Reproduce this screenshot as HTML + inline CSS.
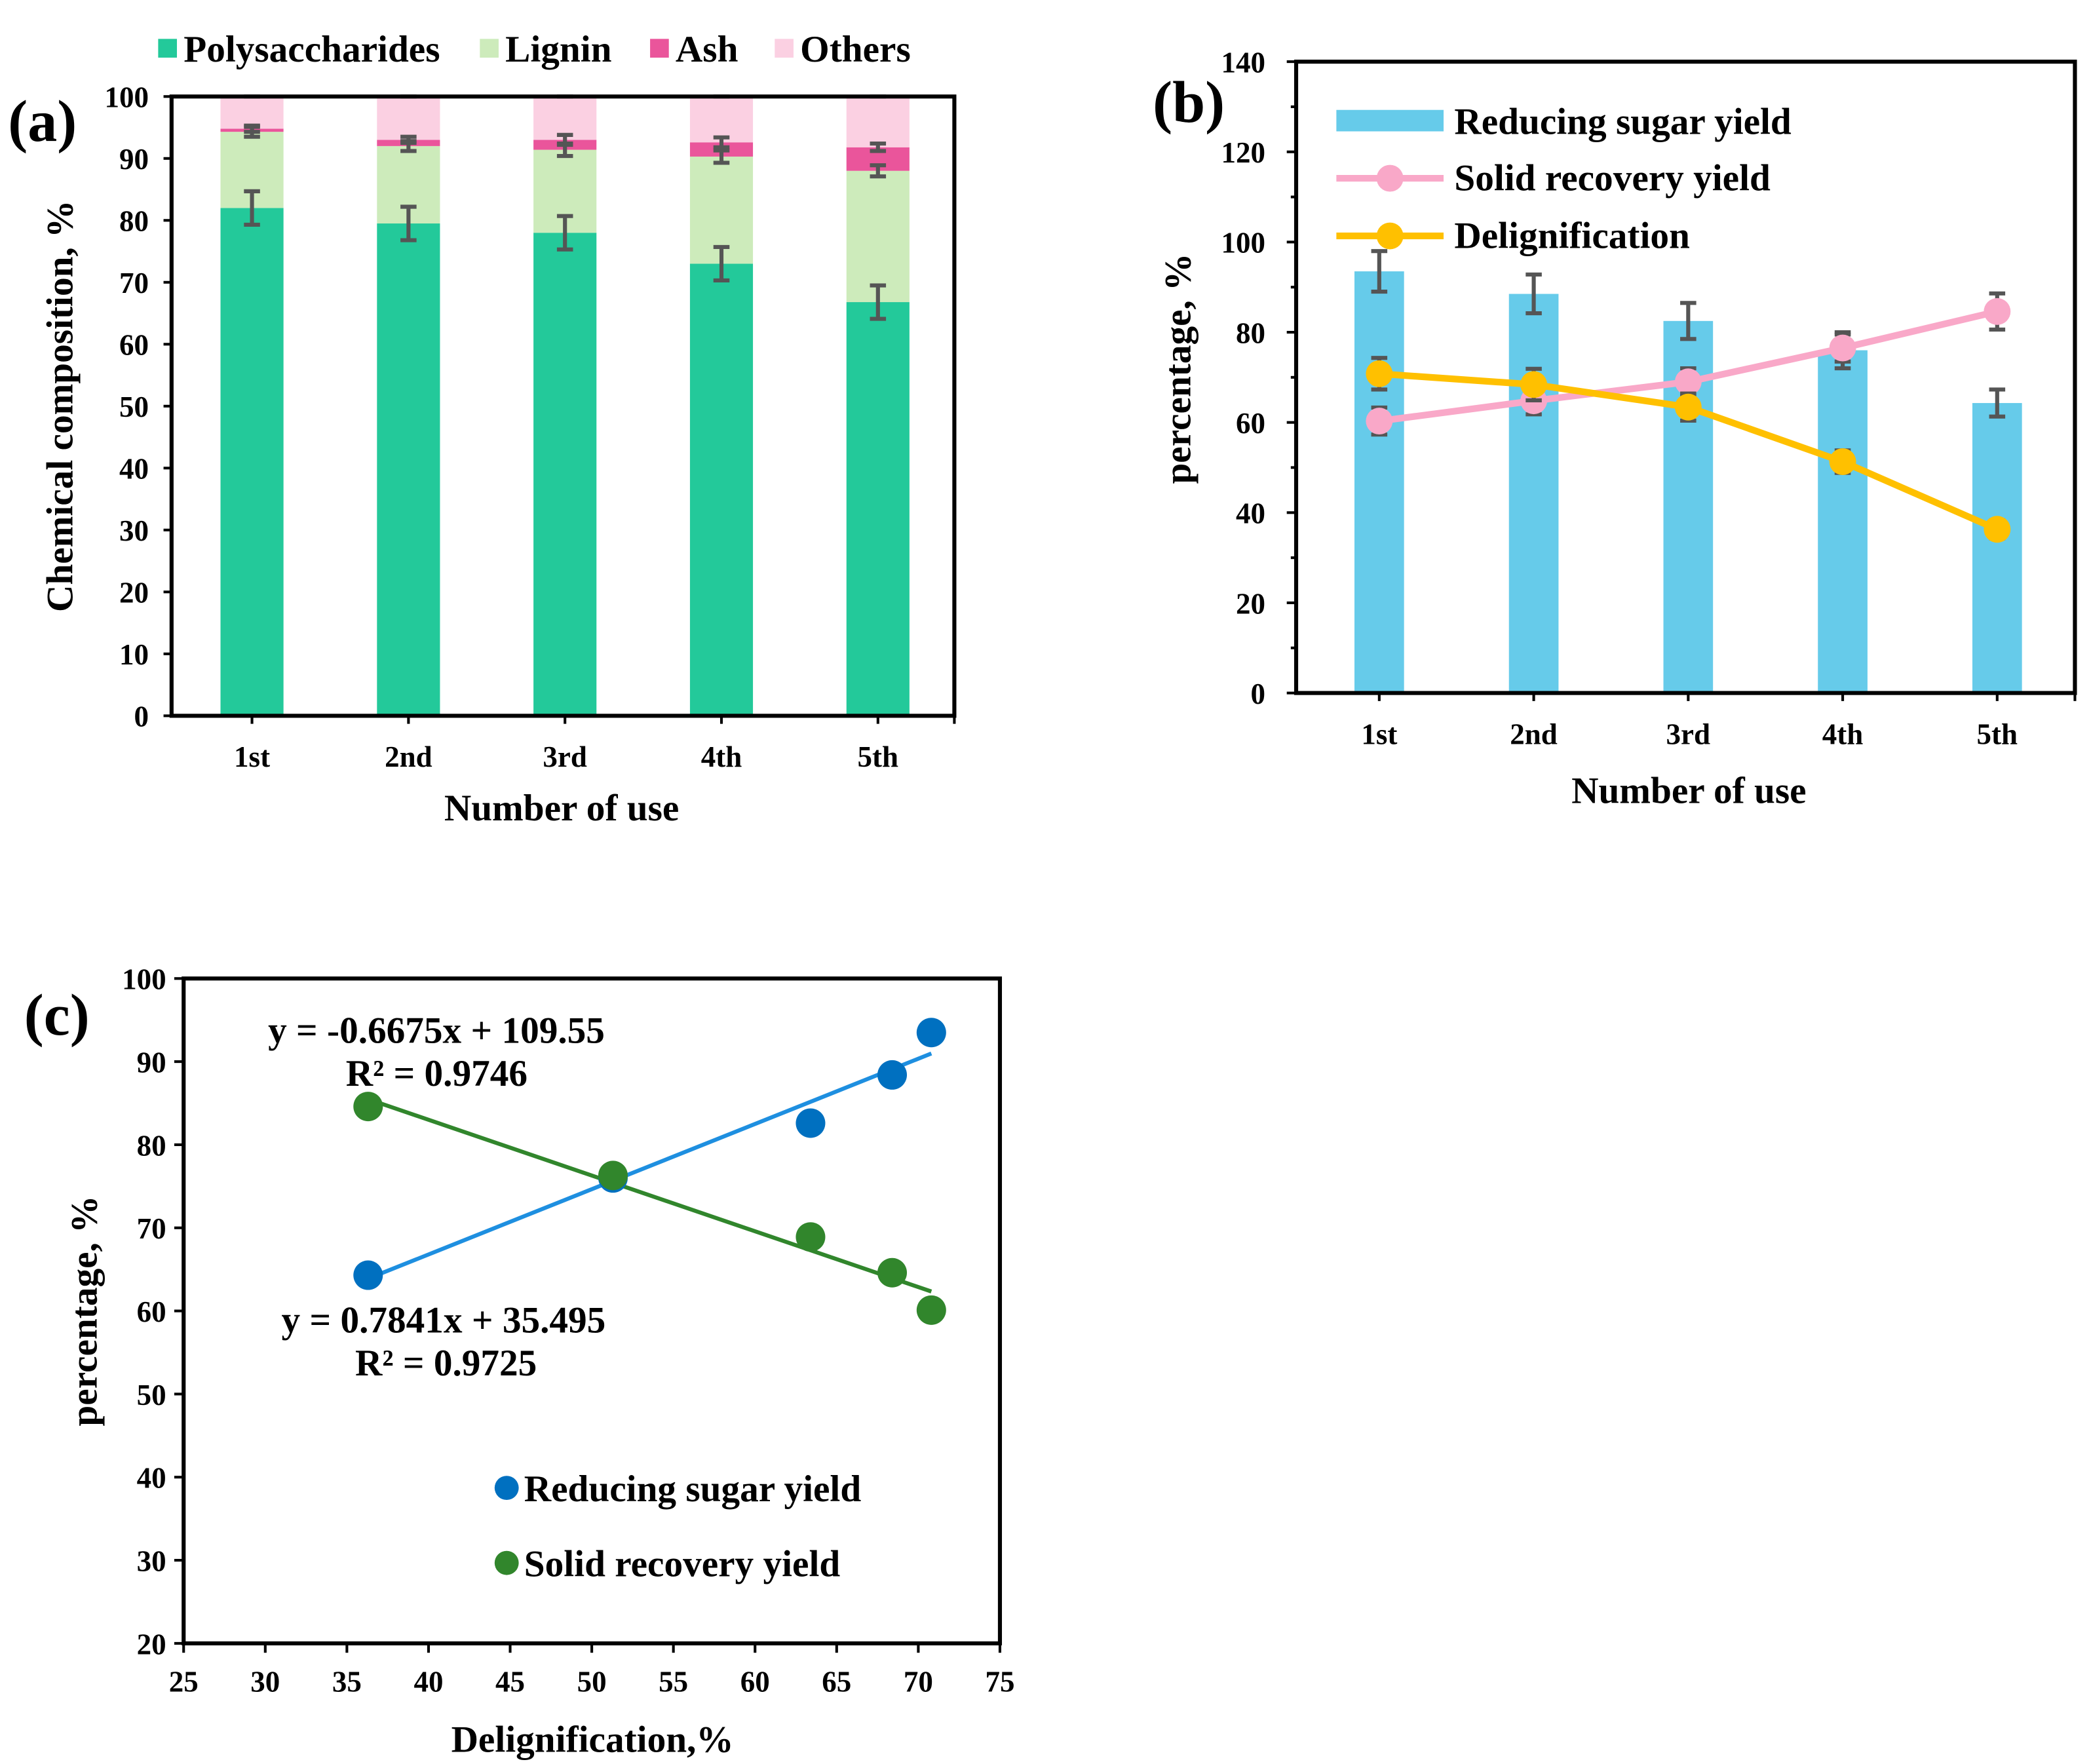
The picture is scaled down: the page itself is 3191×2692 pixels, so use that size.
<!DOCTYPE html>
<html><head><meta charset="utf-8"><style>
html,body{margin:0;padding:0;background:#fff;}
svg{display:block;font-family:"Liberation Serif",serif;font-weight:bold;}
</style></head><body>
<svg id="fig" width="3191" height="2692" viewBox="0 0 1560 1316" preserveAspectRatio="none" xmlns="http://www.w3.org/2000/svg">
<g id="pa"></g>
<g id="pb"></g>
<g id="pc"></g>
</svg>
<script>
// Panel a data
const aCats = ["1st","2nd","3rd","4th","5th"];
const aPoly = [82, 79.5, 78, 73, 66.8];
const aLignin = [12.3, 12.5, 13.4, 17.3, 21.2];
const aAsh = [0.5, 1, 1.6, 2.3, 3.8];
const aPolyErr = [2.7, 2.7, 2.7, 2.7, 2.7];
const aLigErr = [0.8, 0.8, 1, 1, 0.9];
const aAshErr = [0.5, 0.5, 0.8, 0.8, 0.6];
const aTicks = [0,10,20,30,40,50,60,70,80,90,100];
// Panel b data
const bCats = ["1st","2nd","3rd","4th","5th"];
const bSugar = [93.5, 88.5, 82.5, 76, 64.3];
const bSugarErr = [4.5, 4.3, 4, 4, 3];
const bSolid = [60.3, 64.8, 69, 76.5, 84.6];
const bSolidErr = [3, 3, 3, 3, 4];
const bDelig = [70.8, 68.4, 63.4, 51.3, 36.3];
const bDeligErr = [3.5, 3.5, 3, 2.5, 2];
const bTicks = [0,20,40,60,80,100,120,140];
// Panel c data
const cX = [70.8, 68.4, 63.4, 51.3, 36.3];
const cSugar = [93.5, 88.4, 82.6, 76, 64.3];
const cDelX = [36.3, 51.3, 63.4, 68.4, 70.8];
const cSolid = [84.6, 76.3, 68.9, 64.6, 60.1];
const cXTicks = [25,30,35,40,45,50,55,60,65,70,75];
const cYTicks = [20,30,40,50,60,70,80,90,100];

const NS="http://www.w3.org/2000/svg";
function mk(parent,tag,attrs,text){const e=document.createElementNS(NS,tag);for(const k in attrs)e.setAttribute(k,attrs[k]);if(text!==undefined)e.textContent=text;parent.appendChild(e);return e;}
function errBar(g,x,y1,y2,w){
  const e=mk(g,'path',{d:`M${x-w} ${y1}H${x+w}M${x} ${y1}V${y2}M${x-w} ${y2}H${x+w}`,stroke:'#555',"stroke-width":3,fill:'none'});
  
  
}
function txt(g,x,y,s,size,anchor,name,rot){
  const t=mk(g,'text',{x:x,y:y,"font-size":size,"text-anchor":anchor||'middle'},s);
  if(rot)t.setAttribute('transform',`rotate(-90 ${x} ${y})`);
  
  
  return t;
}
const FS=28, TS=22, PS=44;

// ---------- Panel A ----------
(function(){
const g=document.getElementById('pa');
const L=128,R=712,T=72,B=534;
const ys=v=>B-(v/100)*(B-T);
const xs=i=>188+i*116.75;
const bw=47;
aCats.forEach((c,i)=>{
  const x=xs(i);
  const p=aPoly[i], l=p+aLignin[i], a=l+aAsh[i];
  const segs=[[0,p,'#23c99a','bar-polysaccharides'],[p,l,'#cdebbb','bar-lignin'],[l,a,'#ea559b','bar-ash'],[a,100,'#fbd0e2','bar-others']];
  segs.forEach(s=>{
    const r=mk(g,'rect',{x:x-bw/2,y:ys(s[1]),width:bw,height:ys(s[0])-ys(s[1]),fill:s[2]});
    
    
  });
  errBar(g,x,ys(p+aPolyErr[i]),ys(p-aPolyErr[i]),6);
  errBar(g,x,ys(l+aLigErr[i]),ys(l-aLigErr[i]),6);
  errBar(g,x,ys(a+aAshErr[i]),ys(a-aAshErr[i]),6);
  errBar(g,x,ys(100),ys(100),6);
  txt(g,x,572,c,TS,'middle','x-tick-label');
  mk(g,'line',{x1:x,y1:B,x2:x,y2:B+6,stroke:'#000',"stroke-width":2});
});
const f=mk(g,'rect',{x:L,y:T,width:R-L,height:B-T,fill:'none',stroke:'#000',"stroke-width":3});


aTicks.forEach(v=>{mk(g,'line',{x1:L-6,y1:ys(v),x2:L,y2:ys(v),stroke:'#000',"stroke-width":2});txt(g,111,ys(v)+8,String(v),TS,'end','y-tick-label');});
mk(g,'line',{x1:R,y1:B,x2:R,y2:B+6,stroke:'#000',"stroke-width":2});
txt(g,419,612,'Number of use',FS,'middle','x-axis-title');
txt(g,54,303,'Chemical composition, %',FS,'middle','y-axis-title',true);
txt(g,6,105,'(a)',PS,'start','panel-label');
const leg=[[118,'#23c99a','Polysaccharides'],[358,'#cdebbb','Lignin'],[485,'#ea559b','Ash'],[578,'#fbd0e2','Others']];
leg.forEach(l=>{
  const r=mk(g,'rect',{x:l[0],y:29,width:14,height:14,fill:l[1]});
  
  
  txt(g,l[0]+19,46,l[2],FS,'start','legend-entry');
});
})();

// ---------- Panel B ----------
(function(){
const g=document.getElementById('pb');
const L=967,R=1548,T=46,B=517;
const ys=v=>B-(v/140)*(B-T);
const xs=i=>1029+i*115.25;
const bw=37;
bCats.forEach((c,i)=>{
  const x=xs(i);
  const r=mk(g,'rect',{x:x-bw/2,y:ys(bSugar[i]),width:bw,height:B-ys(bSugar[i]),fill:'#66cbea'});
  
  
  errBar(g,x,ys(bSugar[i]+bSugarErr[i]),ys(bSugar[i]-bSugarErr[i]),6);
  txt(g,x,555,c,TS,'middle','x-tick-label');
  mk(g,'line',{x1:x,y1:B,x2:x,y2:B+6,stroke:'#000',"stroke-width":2});
});
function series(vals,errs,color,name){
  const pts=vals.map((v,i)=>`${xs(i)},${ys(v)}`).join(' ');
  const pl=mk(g,'polyline',{points:pts,fill:'none',stroke:color,"stroke-width":5});
  
  
  vals.forEach((v,i)=>{
    errBar(g,xs(i),ys(v+errs[i]),ys(v-errs[i]),6);
    const c=mk(g,'circle',{cx:xs(i),cy:ys(v),r:10,fill:color});
    
    
  });
}
series(bSolid,bSolidErr,'#f9a8c8','solid-recovery');
series(bDelig,bDeligErr,'#ffc000','delignification');
const f=mk(g,'rect',{x:L,y:T,width:R-L,height:B-T,fill:'none',stroke:'#000',"stroke-width":3});


bTicks.forEach(v=>{mk(g,'line',{x1:L-7,y1:ys(v),x2:L,y2:ys(v),stroke:'#000',"stroke-width":2});txt(g,944,ys(v)+8,String(v),TS,'end','y-tick-label');});
for(let v=10;v<140;v+=20)mk(g,'line',{x1:L-4,y1:ys(v),x2:L,y2:ys(v),stroke:'#000',"stroke-width":2});
mk(g,'line',{x1:R,y1:B,x2:R,y2:B+6,stroke:'#000',"stroke-width":2});
txt(g,1260,599,'Number of use',FS,'middle','x-axis-title');
txt(g,888,275,'percentage, %',FS,'middle','y-axis-title',true);
txt(g,860,91,'(b)',PS,'start','panel-label');
let r=mk(g,'rect',{x:997,y:82,width:80,height:16,fill:'#66cbea'});


txt(g,1085,100,'Reducing sugar yield',FS,'start','legend-entry');
[[133,'#f9a8c8','Solid recovery yield'],[176,'#ffc000','Delignification']].forEach(l=>{
  mk(g,'line',{x1:997,y1:l[0],x2:1077,y2:l[0],stroke:l[1],"stroke-width":5});
  const c=mk(g,'circle',{cx:1037,cy:l[0],r:10,fill:l[1]});
  
  
  txt(g,1085,l[0]+9,l[2],FS,'start','legend-entry');
});
})();

// ---------- Panel C ----------
(function(){
const g=document.getElementById('pc');
const L=137,R=746,T=730,B=1226;
const xs=v=>L+(v-25)/50*(R-L);
const ys=v=>B-(v-20)/80*(B-T);
function fit(xv,yv){const n=xv.length;const mx=xv.reduce((a,b)=>a+b)/n,my=yv.reduce((a,b)=>a+b)/n;let sxy=0,sxx=0;xv.forEach((x,i)=>{sxy+=(x-mx)*(yv[i]-my);sxx+=(x-mx)*(x-mx);});const m=sxy/sxx;return [m,my-m*mx];}
function trend(xv,yv,color,name){
  const [m,b]=fit(xv,yv);const x0=Math.min(...xv),x1=Math.max(...xv);
  const l=mk(g,'line',{x1:xs(x0),y1:ys(m*x0+b),x2:xs(x1),y2:ys(m*x1+b),stroke:color,"stroke-width":3});
  
  
}
trend(cX,cSugar,'#1e8fe0','trendline-sugar');
trend(cDelX,cSolid,'#31862c','trendline-solid');
cX.forEach((x,i)=>{const c=mk(g,'circle',{cx:xs(x),cy:ys(cSugar[i]),r:11,fill:'#0070c0'});
  
  });
cDelX.forEach((x,i)=>{const c=mk(g,'circle',{cx:xs(x),cy:ys(cSolid[i]),r:11,fill:'#31862c'});
  
  });
const f=mk(g,'rect',{x:L,y:T,width:R-L,height:B-T,fill:'none',stroke:'#000',"stroke-width":3});


cYTicks.forEach(v=>{mk(g,'line',{x1:L-7,y1:ys(v),x2:L,y2:ys(v),stroke:'#000',"stroke-width":2});txt(g,124,ys(v)+8,String(v),TS,'end','y-tick-label');});
cXTicks.forEach(v=>{mk(g,'line',{x1:xs(v),y1:B,x2:xs(v),y2:B+7,stroke:'#000',"stroke-width":2});txt(g,xs(v),1262,String(v),TS,'middle','x-tick-label');});
txt(g,442,1307,'Delignification,%',FS,'middle','x-axis-title');
txt(g,72,978,'percentage, %',FS,'middle','y-axis-title',true);
txt(g,18,772,'(c)',PS,'start','panel-label');
txt(g,200,778,'y = -0.6675x + 109.55',FS,'start','equation-solid');
txt(g,258,810,'R² = 0.9746',FS,'start','r2-solid');
txt(g,210,994,'y = 0.7841x + 35.495',FS,'start','equation-sugar');
txt(g,265,1026,'R² = 0.9725',FS,'start','r2-sugar');
[[1110,'#0070c0','Reducing sugar yield'],[1166,'#31862c','Solid recovery yield']].forEach(l=>{
  const c=mk(g,'circle',{cx:378,cy:l[0],r:9,fill:l[1]});
  
  
  txt(g,391,l[0]+10,l[2],FS,'start','legend-entry');
});
})();
</script>
</body></html>
